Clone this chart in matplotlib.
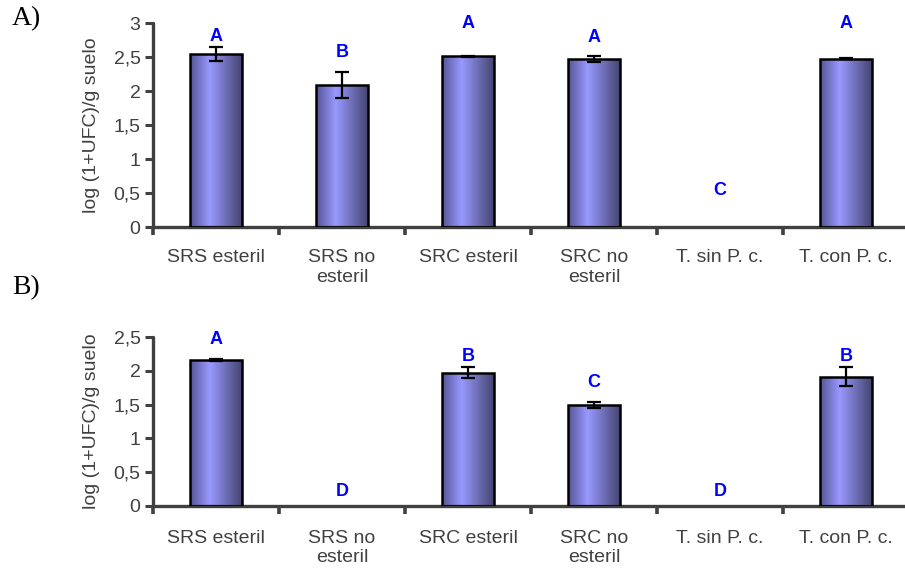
import numpy as np
import matplotlib
matplotlib.use("Agg")
import matplotlib.pyplot as plt
from matplotlib.colors import LinearSegmentedColormap

plt.rcParams['font.family'] = ['Liberation Sans', 'DejaVu Sans']

categories = ["SRS esteril", "SRS no\nesteril", "SRC esteril", "SRC no\nesteril",
              "T. sin P. c.", "T. con P. c."]

# Panel A
values_a = [2.54, 2.09, 2.51, 2.47, 0.0, 2.475]
errors_a = [0.10, 0.19, 0.01, 0.05, 0.0, 0.01]
letters_a = ["A", "B", "A", "A", "C", "A"]
letter_y_a = [2.80, 2.57, 3.00, 2.79, 0.54, 3.00]
yticks_a = [0, 0.5, 1, 1.5, 2, 2.5, 3]
yticklabels_a = ["0", "0,5", "1", "1,5", "2", "2,5", "3"]

# Panel B
values_b = [2.16, 0.0, 1.97, 1.50, 0.0, 1.91]
errors_b = [0.02, 0.0, 0.08, 0.045, 0.0, 0.14]
letters_b = ["A", "D", "B", "C", "D", "B"]
letter_y_b = [2.46, 0.21, 2.21, 1.82, 0.21, 2.21]
yticks_b = [0, 0.5, 1, 1.5, 2, 2.5]
yticklabels_b = ["0", "0,5", "1", "1,5", "2", "2,5"]

ylabel = "log (1+UFC)/g suelo"

W, H = 905, 577
fig = plt.figure(figsize=(W / 100, H / 100), dpi=100)

shade = LinearSegmentedColormap.from_list(
    "cyl", [(0.0, (0.33, 0.33, 0.58)), (0.38, (0.60, 0.60, 1.0)),
            (1.0, (0.27, 0.27, 0.44))])
grad = np.linspace(0, 1, 256).reshape(1, -1)

axis_col = "#404040"
text_col = "#404040"


def panel(rect, values, errors, letters, letter_y, yticks, yticklabels, ymax,
          xpad):
    ax = fig.add_axes(rect)
    x = np.arange(len(categories))
    bars = ax.bar(x, values, width=0.405, color="none", edgecolor="black",
                  linewidth=1.8, zorder=3)
    for b in bars:
        if b.get_height() <= 0:
            b.set_visible(False)
            continue
        x0, w, h = b.get_x(), b.get_width(), b.get_height()
        im = ax.imshow(grad, cmap=shade, aspect="auto",
                       extent=(x0, x0 + w, 0, h), zorder=2)
        im.set_clip_path(b)
    ex = [i for i, v in enumerate(values) if v > 0]
    ax.errorbar([x[i] for i in ex], [values[i] for i in ex],
                yerr=[errors[i] for i in ex], fmt="none", ecolor="black",
                elinewidth=1.6, capsize=4.7, capthick=1.6, zorder=4)
    for i, (lt, ly) in enumerate(zip(letters, letter_y)):
        ax.text(x[i], ly, lt, color="#0000ff", fontsize=13, fontweight="bold",
                ha="center", va="center", zorder=5, clip_on=False)
    ax.set_xlim(-0.5, len(categories) - 0.5)
    ax.set_ylim(0, ymax)
    ax.set_yticks(yticks)
    ax.set_yticklabels(yticklabels, fontsize=14, color=text_col)
    ax.set_xticks(x)
    ax.set_xticklabels(categories, fontsize=14, color=text_col, linespacing=1.2)
    ax.set_xticks(np.arange(len(categories) + 1) - 0.5, minor=True)
    ax.tick_params(axis="x", which="major", length=0, pad=xpad)
    ax.tick_params(axis="x", which="minor", length=6, width=2.6, color=axis_col,
                   direction="out")
    ax.tick_params(axis="y", length=6, width=2.2, color=axis_col, pad=3)
    for s in ("top", "right"):
        ax.spines[s].set_visible(False)
    for s in ("left", "bottom"):
        ax.spines[s].set_color(axis_col)
        ax.spines[s].set_linewidth(2.4)
        ax.spines[s].set_capstyle("round")
    ax.set_ylabel(ylabel, fontsize=14, color=text_col, labelpad=10)
    ax.patch.set_visible(False)
    return ax


left = 153 / W
width = 756 / W
ax_a = panel([left, (H - 227) / H, width, 204 / H], values_a, errors_a,
             letters_a, letter_y_a, yticks_a, yticklabels_a, 3.0, 16)
ax_b = panel([left, (H - 506) / H, width, 169 / H], values_b, errors_b,
             letters_b, letter_y_b, yticks_b, yticklabels_b, 2.5, 17)

fig.text(12 / W, 1 - 19 / H, "A)", fontsize=20, family="Liberation Serif",
         ha="left", va="center")
fig.text(12 / W, 1 - 288 / H, "B)", fontsize=20, family="Liberation Serif",
         ha="left", va="center")

fig.savefig("out.png", dpi=100)
